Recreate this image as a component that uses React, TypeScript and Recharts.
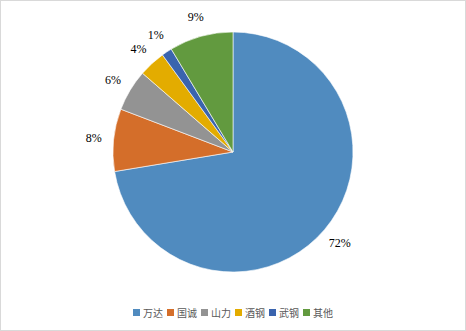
import { Cell, Legend, Pie, PieChart } from "recharts";

// market share pie, clockwise from 12 o'clock
const NAMES = ["万达", "国诚", "山力", "酒钢", "武钢", "其他"];
const SHARES = [72.4, 8.4, 5.6, 3.6, 1.4, 8.6];
const LABELS = ["72%", "8%", "6%", "4%", "1%", "9%"];
const COLORS = ["#508BBF", "#D46E2A", "#939393", "#E3AC00", "#3A64AE", "#629A3F"];

const RADIAN = Math.PI / 180;

const data = NAMES.map((name, i) => ({ name, value: SHARES[i], label: LABELS[i] }));

function renderLabel(props: any) {
  const { cx, cy, midAngle, outerRadius, index } = props;
  const r = outerRadius + 20;
  const x = cx + r * Math.cos(-midAngle * RADIAN);
  const y = cy + r * Math.sin(-midAngle * RADIAN);
  return (
    <text
      key={`lbl-${index}`}
      x={x}
      y={y}
      textAnchor="middle"
      dominantBaseline="central"
      fill="#000"
      stroke="none"
      style={{ fill: "#000", stroke: "none", fontSize: 12, fontFamily: "'Liberation Serif', serif" }}
    >
      {LABELS[index]}
    </text>
  );
}

// keep the data order (recharts 3 sorts legend items by default)
function LegendRow() {
  return (
    <div
      style={{
        display: "flex",
        justifyContent: "center",
        gap: 4,
        fontSize: 10,
        color: "#595959",
        fontFamily: "'Noto Sans CJK SC', sans-serif",
      }}
    >
      {NAMES.map((n, i) => (
        <span key={n} style={{ display: "flex", alignItems: "center" }}>
          <span
            style={{ width: 7, height: 7, background: COLORS[i], marginRight: 3, display: "inline-block" }}
          />
          {n}
        </span>
      ))}
    </div>
  );
}

export default function App() {
  return (
    <div
      style={{
        position: "absolute",
        left: 0,
        top: 0,
        width: 464,
        height: 329,
        border: "1px solid #d9d9d9",
        background: "#fff",
      }}
    >
      <PieChart width={464} height={329} margin={{ top: 0, right: 0, bottom: 0, left: 0 }}>
        <Pie
          data={data}
          dataKey="value"
          nameKey="name"
          cx={232}
          cy={151}
          outerRadius={120}
          startAngle={90}
          endAngle={-270}
          stroke="#fff"
          strokeWidth={0.6}
          label={renderLabel}
          labelLine={false}
          isAnimationActive={false}
        >
          {data.map((d, i) => (
            <Cell key={d.name} fill={COLORS[i]} />
          ))}
        </Pie>
        <Legend
          verticalAlign="bottom"
          align="center"
          wrapperStyle={{ bottom: 10 }}
          content={() => <LegendRow />}
        />
      </PieChart>
    </div>
  );
}
